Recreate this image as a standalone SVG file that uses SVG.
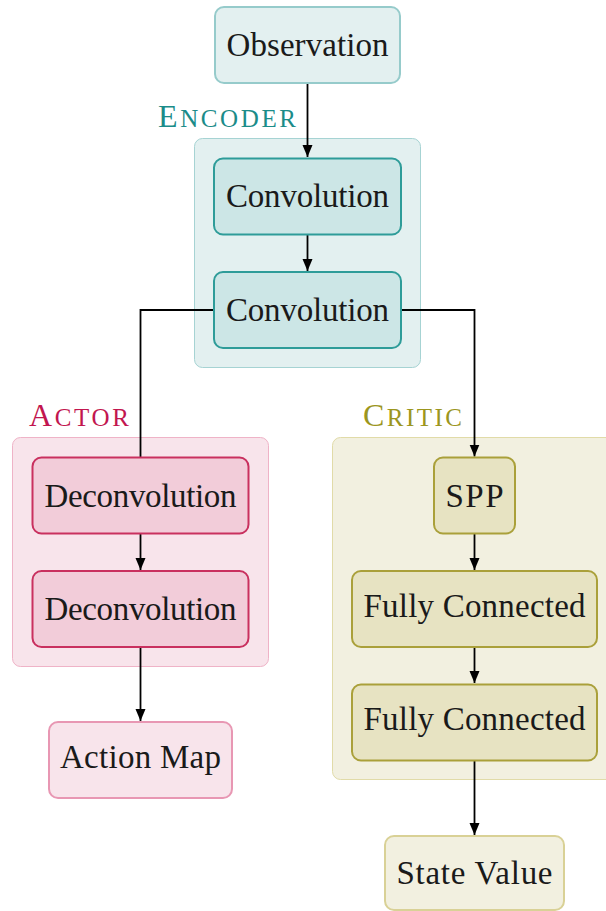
<svg xmlns="http://www.w3.org/2000/svg" width="606" height="911" viewBox="0 0 606 911">
<style>
.t{font-family:"Liberation Serif","Times New Roman",serif;font-size:33px;fill:#1a1a1a;text-anchor:middle}
.lbl{font-family:"Liberation Serif","Times New Roman",serif;font-size:32px}
.c{fill:none;stroke:#000;stroke-width:1.8}
.enc-g{fill:#e3f0f0;stroke:#a6d3d3;stroke-width:1}
.enc-n{fill:#cce6e6;stroke:#2e9c99;stroke-width:2}
.enc-io{fill:#e3f0f0;stroke:#96cbcb;stroke-width:2}
.act-g{fill:#f8e4eb;stroke:#efb3c7;stroke-width:1}
.act-n{fill:#f2ccd9;stroke:#c9305f;stroke-width:2}
.act-io{fill:#f8e4eb;stroke:#e897b3;stroke-width:2}
.cri-g{fill:#f2f0e0;stroke:#e1dba8;stroke-width:1}
.cri-n{fill:#e7e3c2;stroke:#aaa03a;stroke-width:2}
.cri-io{fill:#f2f0e0;stroke:#d9d196;stroke-width:2}
</style>
<defs>
<marker id="ah" markerUnits="userSpaceOnUse" markerWidth="12" markerHeight="12" viewBox="0 0 12 10" refX="12" refY="5" orient="auto">
<path d="M0,0 L12,5 L0,10 z" fill="#000"/>
</marker>
</defs>

<g id="group-encoder">
<rect class="enc-g" x="194.5" y="138.5" width="226" height="229" rx="8"/>
<text class="lbl" x="158" y="127" fill="#1b8c89" textLength="138" lengthAdjust="spacing">E<tspan font-size="25">NCODER</tspan></text>
</g>
<g id="group-actor">
<rect class="act-g" x="12.5" y="437.5" width="256" height="229" rx="8"/>
<text class="lbl" x="29" y="426" fill="#c2164f" textLength="100" lengthAdjust="spacing">A<tspan font-size="25">CTOR</tspan></text>
</g>
<g id="group-critic">
<rect class="cri-g" x="332.5" y="437.5" width="290" height="342" rx="8"/>
<text class="lbl" x="363" y="426" fill="#9c961e" textLength="99" lengthAdjust="spacing">C<tspan font-size="25">RITIC</tspan></text>
</g>

<g id="connectors">
<path class="c" d="M307.5,83 V157" marker-end="url(#ah)"/>
<path class="c" d="M307.5,234 V271" marker-end="url(#ah)"/>
<path class="c" d="M214,310 H140.5 V457.5"/>
<path class="c" d="M401,310 H474.5 V456.5" marker-end="url(#ah)"/>
<path class="c" d="M140.5,533 V570" marker-end="url(#ah)"/>
<path class="c" d="M140.5,647 V721" marker-end="url(#ah)"/>
<path class="c" d="M474.5,533 V570" marker-end="url(#ah)"/>
<path class="c" d="M474.5,647 V683" marker-end="url(#ah)"/>
<path class="c" d="M474.5,760 V835" marker-end="url(#ah)"/>
</g>

<g id="observation">
<rect class="enc-io" x="215" y="7" width="185" height="76" rx="9"/>
<text class="t" x="307.5" y="56" textLength="162" lengthAdjust="spacing">Observation</text>
</g>
<g id="conv1">
<rect class="enc-n" x="214" y="158.5" width="187" height="76" rx="9"/>
<text class="t" x="307.5" y="207" textLength="163" lengthAdjust="spacing">Convolution</text>
</g>
<g id="conv2">
<rect class="enc-n" x="214" y="272" width="187" height="76" rx="9"/>
<text class="t" x="307.5" y="321" textLength="163" lengthAdjust="spacing">Convolution</text>
</g>
<g id="deconv1">
<rect class="act-n" x="32.5" y="457.5" width="216" height="76" rx="9"/>
<text class="t" x="140.5" y="507" textLength="192" lengthAdjust="spacing">Deconvolution</text>
</g>
<g id="deconv2">
<rect class="act-n" x="32.5" y="571" width="216" height="76" rx="9"/>
<text class="t" x="140.5" y="620" textLength="192" lengthAdjust="spacing">Deconvolution</text>
</g>
<g id="action-map">
<rect class="act-io" x="49" y="722" width="183" height="76" rx="9"/>
<text class="t" x="140.5" y="768" textLength="161" lengthAdjust="spacing">Action Map</text>
</g>
<g id="spp">
<rect class="cri-n" x="434" y="457.5" width="81" height="76" rx="9"/>
<text class="t" x="474.5" y="507" textLength="58" lengthAdjust="spacing">SPP</text>
</g>
<g id="fc1">
<rect class="cri-n" x="352" y="571" width="245" height="76" rx="9"/>
<text class="t" x="474.5" y="617" textLength="222" lengthAdjust="spacing">Fully Connected</text>
</g>
<g id="fc2">
<rect class="cri-n" x="352" y="684.5" width="245" height="76" rx="9"/>
<text class="t" x="474.5" y="730" textLength="222" lengthAdjust="spacing">Fully Connected</text>
</g>
<g id="state-value">
<rect class="cri-io" x="385" y="836" width="179" height="74" rx="9"/>
<text class="t" x="474.5" y="884" textLength="156" lengthAdjust="spacing">State Value</text>
</g>
</svg>
